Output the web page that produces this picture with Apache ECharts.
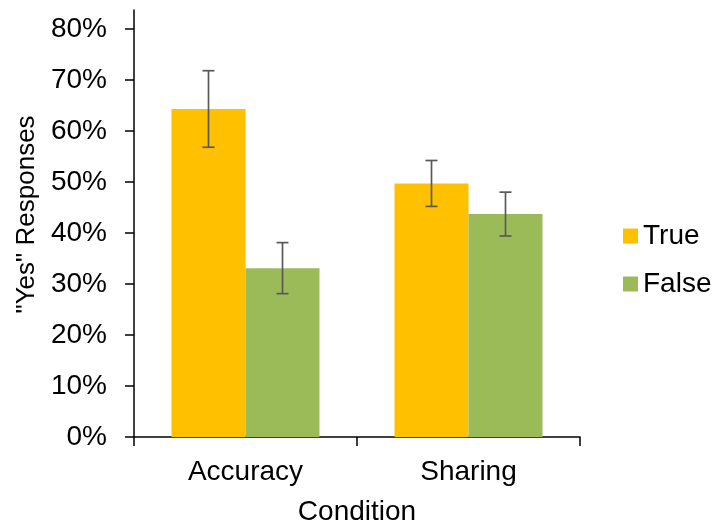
<!DOCTYPE html>
<html>
<head>
<meta charset="utf-8">
<script src="https://cdn.jsdelivr.net/npm/echarts@6/dist/echarts.min.js"></script>
<style>
  html, body { margin: 0; padding: 0; background: #fff; }
  #chart { width: 717px; height: 527px; }
</style>
</head>
<body>
<div id="chart"></div>
<script>
// Share of "Yes" responses by condition and headline veracity
const categories = ['Accuracy', 'Sharing'];
const seriesNames = ['True', 'False'];
const trueValues = [0.643, 0.497];
const falseValues = [0.331, 0.437];
const trueErrors = [0.075, 0.045];
const falseErrors = [0.050, 0.043];
const yTicks = [0, 0.1, 0.2, 0.3, 0.4, 0.5, 0.6, 0.7, 0.8];

const FONT = 'Liberation Sans, Arial, sans-serif';
const BAR_W = 74;
const colors = ['#FFC000', '#9BBB59'];

function errorSeries(values, errors, side) {
  const data = values.map((v, i) => [i, v - errors[i], v + errors[i]]);
  return {
    type: 'custom',
    z: 10,
    silent: true,
    data: data,
    encode: { x: 0, y: [1, 2] },
    renderItem: function (params, api) {
      const i = api.value(0);
      const lo = api.coord([i, api.value(1)]);
      const hi = api.coord([i, api.value(2)]);
      const x = lo[0] + side * BAR_W / 2;
      const cap = 6;
      const style = { stroke: '#595959', lineWidth: 1.7 };
      return {
        type: 'group',
        children: [
          { type: 'line', shape: { x1: x, y1: hi[1], x2: x, y2: lo[1] }, style: style },
          { type: 'line', shape: { x1: x - cap, y1: hi[1], x2: x + cap, y2: hi[1] }, style: style },
          { type: 'line', shape: { x1: x - cap, y1: lo[1], x2: x + cap, y2: lo[1] }, style: style }
        ]
      };
    }
  };
}

const chart = echarts.init(document.getElementById('chart'), null, { renderer: 'canvas' });
chart.setOption({
  animation: false,
  backgroundColor: '#ffffff',
  textStyle: { fontFamily: FONT },
  grid: { left: 134, right: 137, top: 10, bottom: 90, containLabel: false, outerBoundsMode: 'none' },
  legend: {
    orient: 'vertical',
    left: 623,
    top: 222,
    padding: 0,
    itemWidth: 15,
    itemHeight: 15,
    itemGap: 20,
    icon: 'rect',
    data: seriesNames,
    textStyle: { fontSize: 28, lineHeight: 28, color: '#000', fontFamily: FONT }
  },
  xAxis: {
    type: 'category',
    data: categories,
    name: 'Condition',
    nameLocation: 'middle',
    nameGap: 61,
    nameTextStyle: { fontSize: 28, color: '#000', fontFamily: FONT },
    axisLine: { show: true, lineStyle: { color: '#000', width: 1.5 } },
    axisTick: { show: true, length: 9, lineStyle: { color: '#000', width: 1.5 } },
    axisLabel: { fontSize: 28, color: '#000', margin: 21, fontFamily: FONT },
    splitLine: { show: false }
  },
  yAxis: {
    type: 'value',
    min: 0,
    max: 0.837,
    name: '"Yes" Responses',
    nameLocation: 'middle',
    nameGap: 93,
    nameTextStyle: { fontSize: 26, color: '#000', fontFamily: FONT, padding: [0, 0, 0, 18] },
    axisLine: { show: true, lineStyle: { color: '#000', width: 1.5 } },
    axisTick: { show: true, length: 9, customValues: yTicks, lineStyle: { color: '#000', width: 1.5 } },
    axisLabel: {
      fontSize: 28, color: '#000', margin: 27, fontFamily: FONT,
      customValues: yTicks,
      formatter: v => Math.round(v * 100) + '%'
    },
    splitLine: { show: false }
  },
  series: [
    {
      name: seriesNames[0], type: 'bar', data: trueValues,
      barWidth: BAR_W, barGap: '0%',
      itemStyle: { color: colors[0] }
    },
    {
      name: seriesNames[1], type: 'bar', data: falseValues,
      barWidth: BAR_W, barGap: '0%',
      itemStyle: { color: colors[1] }
    },
    errorSeries(trueValues, trueErrors, -1),
    errorSeries(falseValues, falseErrors, 1)
  ]
});
</script>
</body>
</html>
